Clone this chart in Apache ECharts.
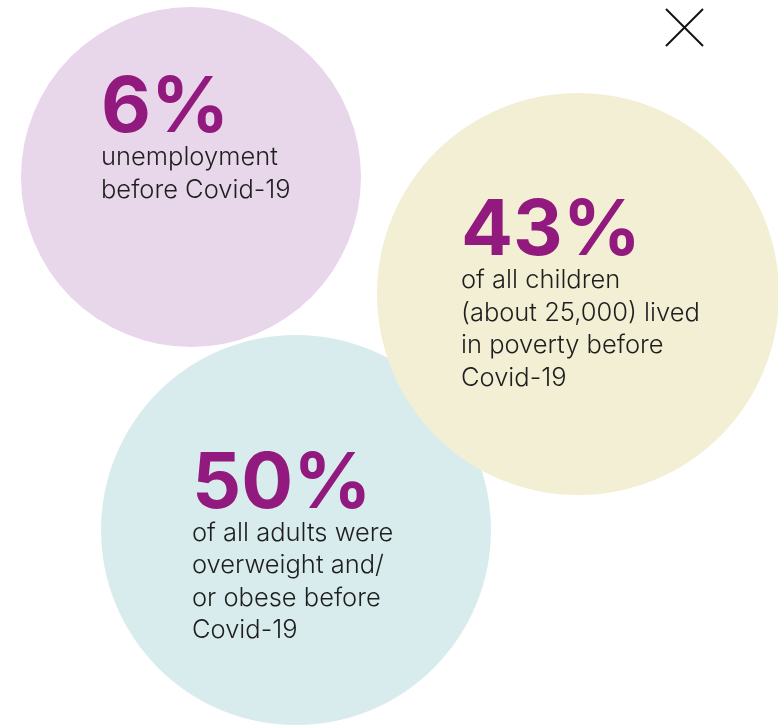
<!DOCTYPE html>
<html>
<head>
<meta charset="utf-8">
<script src="https://cdn.jsdelivr.net/npm/echarts@6/dist/echarts.min.js"></script>
<style>
html,body{margin:0;padding:0;background:#fff;}
#chart{width:778px;height:728px;}
</style>
</head>
<body>
<div id="chart"></div>
<script>
// ---- data ----
const statNames = ['unemployment', 'child poverty', 'adult overweight'];
const statValues = [6, 43, 50];
const statLabels = ['6%', '43%', '50%'];
const statDescriptions = [
  ['unemployment', 'before Covid-19'],
  ['of all children', '(about 25,000) lived', 'in poverty before', 'Covid-19'],
  ['of all adults were', 'overweight and/', 'or obese before', 'Covid-19']
];

// ---- layout (bubble placement in the infographic, pixel space) ----
const layout = [
  { cx: 191, cy: 177, r: 170, color: '#e8d6ea', tx: 80, ty: 69.5 },
  { cx: 578, cy: 294, r: 201, color: '#f2efd4', tx: 84, ty: 106.5 },
  { cx: 296, cy: 530, r: 195, color: '#d9eced', tx: 91, ty: 117 }
];
const drawOrder = [0, 2, 1];

const BIG_FONT = "Inter, 'Liberation Sans', Arial, sans-serif";
const BODY_FONT = "Inter, 'Liberation Sans', Arial, sans-serif";

const seriesData = drawOrder.map(function (i) {
  const L = layout[i];
  return {
    name: statNames[i],
    value: [L.cx, L.cy, statValues[i]],
    symbolSize: L.r * 2,
    itemStyle: { color: L.color, opacity: 1 },
    label: {
      show: true,
      position: [L.tx, L.ty],
      align: 'left',
      verticalAlign: 'top',
      opacity: 1,
      formatter: '{big|' + statLabels[i] + '}\n' +
        statDescriptions[i].map(function (s) { return '{body|' + s + '}'; }).join('\n')
    }
  };
});

const chart = echarts.init(document.getElementById('chart'), null, { renderer: 'canvas' });
chart.setOption({
  backgroundColor: '#ffffff',
  animation: false,
  grid: { left: 0, right: 0, top: 0, bottom: 0 },
  xAxis: { type: 'value', min: 0, max: 778, show: false },
  yAxis: { type: 'value', min: 0, max: 728, inverse: true, show: false },
  series: [{
    type: 'scatter',
    symbol: 'circle',
    data: seriesData,
    itemStyle: { opacity: 1 },
    emphasis: { disabled: true },
    label: {
      rich: {
        big: {
          fontFamily: BIG_FONT,
          fontSize: 77,
          fontWeight: 'bold',
          color: '#921a7f',
          lineHeight: 65
        },
        body: {
          fontFamily: BODY_FONT,
          fontSize: 25.5,
          fontWeight: 300,
          color: '#1e1e1e',
          lineHeight: 32.5
        }
      }
    }
  }],
  graphic: [
    { type: 'line', shape: { x1: 666, y1: 9, x2: 703, y2: 46 }, style: { stroke: '#111', lineWidth: 2 } },
    { type: 'line', shape: { x1: 703, y1: 9, x2: 666, y2: 46 }, style: { stroke: '#111', lineWidth: 2 } }
  ]
});
</script>
</body>
</html>
